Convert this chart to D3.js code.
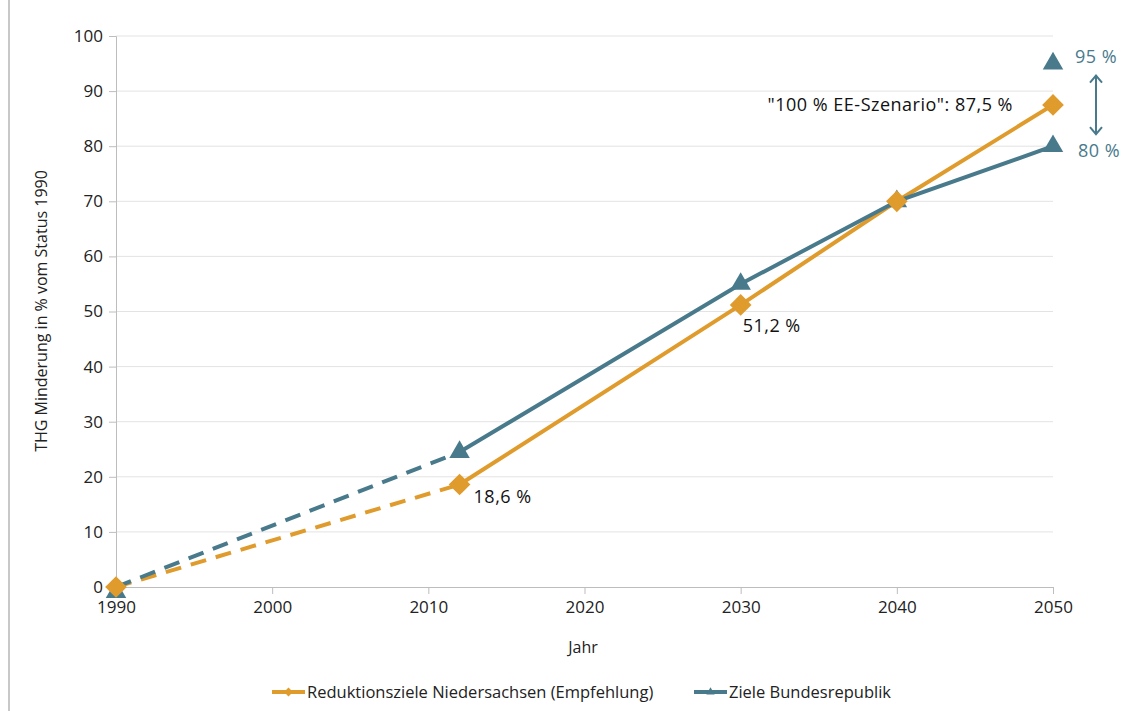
<!DOCTYPE html>
<html>
<head>
<meta charset="utf-8">
<script src="https://cdn.jsdelivr.net/npm/d3@7"></script>
<style>
  body { margin: 0; background: #fff; }
  text { font-family: "Open Sans", "Noto Sans", sans-serif; }
</style>
</head>
<body>
<svg width="1123" height="711"></svg>
<script>
// data
const years = [1990, 2012, 2030, 2040, 2050];
const niedersachsen = [0, 18.6, 51.2, 70, 87.5];
const bund = [0, 24.5, 55, 70, 80];
const bundExtra = [{ year: 2050, value: 95 }];
const xTicks = [1990, 2000, 2010, 2020, 2030, 2040, 2050];
const yTicks = [0, 10, 20, 30, 40, 50, 60, 70, 80, 90, 100];

const orange = "#E09B2D";
const blue = "#487A8C";

let svg = d3.select("svg");
let x = d3.scaleLinear().domain([1990, 2050]).range([116, 1053]);
let y = d3.scaleLinear().domain([0, 100]).range([587, 36]);

// left frame line
svg.append("line")
    .attr("x1", 9).attr("x2", 9).attr("y1", 0).attr("y2", 711)
    .attr("stroke", "#c8c8c8").attr("stroke-width", 2);

// gridlines
svg.append("g").selectAll("line")
    .data(yTicks.slice(1))
    .enter().append("line")
    .attr("x1", x(1990)).attr("x2", x(2050))
    .attr("y1", d => y(d)).attr("y2", d => y(d))
    .attr("stroke", "#e3e3e3");

// axes
let yAxis = svg.append("g")
    .attr("transform", "translate(" + x(1990) + ",0)")
    .call(d3.axisLeft(y).tickValues(yTicks).tickSize(7).tickPadding(6));
let xAxis = svg.append("g")
    .attr("transform", "translate(0," + y(0) + ")")
    .call(d3.axisBottom(x).tickValues(xTicks).tickFormat(d3.format("d")).tickSize(7).tickPadding(5));
[xAxis, yAxis].forEach(a => {
  a.select(".domain").attr("stroke", "#bdbdbd");
  a.selectAll(".tick line").attr("stroke", "#bdbdbd");
  a.selectAll(".tick text").attr("fill", "#222").style("font-size", "17px")
      .style("font-family", "'Open Sans', sans-serif");
});
xAxis.selectAll(".tick text").attr("dy", "0.85em");

// axis titles
svg.append("text")
    .attr("x", 583).attr("y", 653)
    .attr("text-anchor", "middle")
    .style("font-size", "16px").attr("fill", "#222")
    .text("Jahr");
svg.append("text")
    .attr("transform", "translate(47," + 311 + ") rotate(-90)")
    .attr("text-anchor", "middle")
    .style("font-size", "16px").attr("fill", "#222")
    .text("THG Minderung in % vom Status 1990");

// lines
let line = d3.line().x(d => x(d[0])).y(d => y(d[1]));
function drawSeries(values, color) {
  let pts = years.map((yr, i) => [yr, values[i]]);
  svg.append("path")
      .attr("d", line(pts.slice(0, 2)))
      .attr("fill", "none").attr("stroke", color)
      .attr("stroke-width", 4).attr("stroke-dasharray", "16,10");
  svg.append("path")
      .attr("d", line(pts.slice(1)))
      .attr("fill", "none").attr("stroke", color)
      .attr("stroke-width", 4);
  return pts;
}
let ptsN = drawSeries(niedersachsen, orange);
let ptsB = drawSeries(bund, blue);

// markers
let diamond = d3.symbol().type(d3.symbolDiamond2).size(300);
let triangle = d3.symbol().type(d3.symbolTriangle2).size(300);

svg.append("g").selectAll("path")
    .data(ptsB.concat(bundExtra.map(d => [d.year, d.value])))
    .enter().append("path")
    .attr("d", triangle)
    .attr("transform", d => "translate(" + x(d[0]) + "," + (y(d[1]) + (d[1] === 0 ? 5 : 0)) + ")")
    .attr("fill", blue);

svg.append("g").selectAll("path")
    .data(ptsN)
    .enter().append("path")
    .attr("d", diamond)
    .attr("transform", d => "translate(" + x(d[0]) + "," + y(d[1]) + ")")
    .attr("fill", orange);

// data labels
function label(tx, ty, txt, color, anchor) {
  svg.append("text")
      .attr("x", tx).attr("y", ty)
      .attr("text-anchor", anchor || "start")
      .style("font-size", "18px").style("letter-spacing", "0.5px")
      .attr("fill", color)
      .text(txt);
}
label(x(2012) + 14, y(18.6) + 18, "18,6 %", "#111");
label(x(2030) + 2, y(51.2) + 27, "51,2 %", "#111");
label(x(2050) - 40, y(87.5) + 6, "\"100 % EE-Szenario\": 87,5 %", "#111", "end");
label(x(2050) + 22, y(95) - 1, "95 %", blue);
label(x(2050) + 25, y(80) + 11, "80 %", blue);

// double arrow
let ax = x(2050) + 43;
svg.append("line")
    .attr("x1", ax).attr("x2", ax).attr("y1", y(93) + 2).attr("y2", y(82) - 2)
    .attr("stroke", blue).attr("stroke-width", 2);
svg.append("path")
    .attr("d", "M" + (ax - 6) + "," + (y(93) + 8) + "L" + ax + "," + (y(93) + 1) + "L" + (ax + 6) + "," + (y(93) + 8))
    .attr("fill", "none").attr("stroke", blue).attr("stroke-width", 2);
svg.append("path")
    .attr("d", "M" + (ax - 6) + "," + (y(82) - 8) + "L" + ax + "," + (y(82) - 1) + "L" + (ax + 6) + "," + (y(82) - 8))
    .attr("fill", "none").attr("stroke", blue).attr("stroke-width", 2);

// legend
const legendItems = [
  { name: "Reduktionsziele Niedersachsen (Empfehlung)", color: orange, sym: d3.symbolDiamond2, x: 272 },
  { name: "Ziele Bundesrepublik", color: blue, sym: d3.symbolTriangle2, x: 694 }
];
let lg = svg.append("g").selectAll("g")
    .data(legendItems)
    .enter().append("g")
    .attr("transform", d => "translate(" + d.x + ",692)");
lg.append("line").attr("x1", 0).attr("x2", 33)
    .attr("stroke", d => d.color).attr("stroke-width", 4);
lg.append("path")
    .attr("d", d => d3.symbol().type(d.sym).size(50)())
    .attr("transform", "translate(16.5,0)")
    .attr("fill", d => d.color);
lg.append("text")
    .attr("x", 35).attr("dy", "0.35em")
    .style("font-size", "16.5px").attr("fill", "#222")
    .text(d => d.name);
</script>
</body>
</html>
